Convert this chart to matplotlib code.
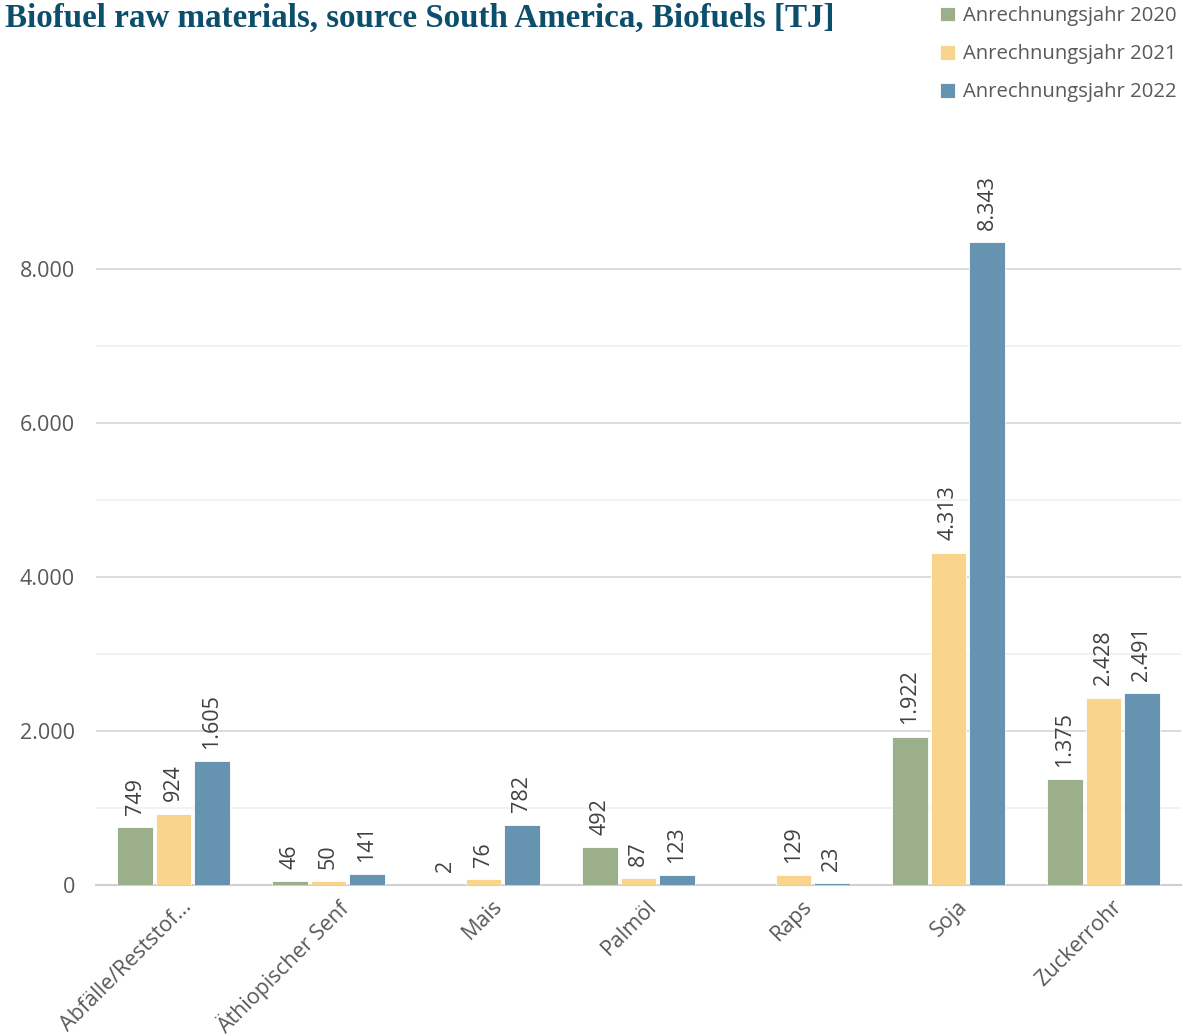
import matplotlib.pyplot as plt
import matplotlib.transforms as mtransforms
import numpy as np

# Data
categories = ['Abfälle/Reststof...', 'Äthiopischer Senf', 'Mais', 'Palmöl', 'Raps', 'Soja', 'Zuckerrohr']
years = ['Anrechnungsjahr 2020', 'Anrechnungsjahr 2021', 'Anrechnungsjahr 2022']
v2020 = [749, 46, 2, 492, None, 1922, 1375]
v2021 = [924, 50, 76, 87, 129, 4313, 2428]
v2022 = [1605, 141, 782, 123, 23, 8343, 2491]
colors = ['#9BB08A', '#F8D58A', '#6694B0']

plt.rcParams['font.family'] = ['Open Sans', 'DejaVu Sans']

fig = plt.figure(figsize=(11.83, 10.36), dpi=100)
ax = fig.add_axes([0.0811, 0.1458, 0.9172, 0.6319])

x = np.arange(len(categories))
offset = 0.248
width = 0.228

for i, (vals, col, lab) in enumerate(zip([v2020, v2021, v2022], colors, years)):
    xs = x + (i - 1) * offset
    heights = [v if v is not None else 0 for v in vals]
    ax.bar(xs, heights, width, color=col, edgecolor='white', linewidth=0.6,
           label=lab, zorder=3)
    for xi, v in zip(xs, vals):
        if v is None:
            continue
        txt = f'{v:,}'.replace(',', '.')
        ax.annotate(txt, (xi, v), xytext=(0, 9), textcoords='offset points',
                    rotation=90, ha='center', va='bottom', fontsize=15.5,
                    color='#404040')

ax.set_xlim(-0.5, 6.5)
ax.set_ylim(0, 8500)
ax.set_yticks([0, 2000, 4000, 6000, 8000])
ax.set_yticklabels(['0', '2.000', '4.000', '6.000', '8.000'])
ax.set_yticks([1000, 3000, 5000, 7000], minor=True)
ax.grid(axis='y', which='major', color='#d9d9d9', linewidth=1.3, zorder=0)
ax.grid(axis='y', which='minor', color='#efefef', linewidth=1.1, zorder=0)
ax.tick_params(axis='y', which='both', length=0, pad=15, labelsize=15.5, labelcolor='#595959')
ax.tick_params(axis='x', length=0)

for s in ['top', 'right', 'left']:
    ax.spines[s].set_visible(False)
ax.spines['bottom'].set_color('#d0d0d0')
ax.spines['bottom'].set_linewidth(1.5)

ax.set_xticks(x)
ax.set_xticklabels(categories, rotation=45, ha='right', rotation_mode='anchor',
                   fontsize=15.5, color='#595959')
shift = mtransforms.ScaledTranslation(8 / 100, -6 / 100, fig.dpi_scale_trans)
for lbl in ax.get_xticklabels():
    lbl.set_transform(lbl.get_transform() + shift)

fig.text(0.004, 0.997, 'Biofuel raw materials, source South America, Biofuels [TJ]',
         ha='left', va='top', fontsize=23.8, fontweight='bold', color='#0B4F6C',
         family='Liberation Serif')

fig.legend(loc='upper left', bbox_to_anchor=(940 / 1183, 1 - 6 / 1036), frameon=False,
           fontsize=14.6, borderpad=0, borderaxespad=0,
           handlelength=0.75, handleheight=0.75, handletextpad=0.4, labelspacing=0.9,
           labelcolor='#595959')

fig.savefig('out.png', dpi=100)
